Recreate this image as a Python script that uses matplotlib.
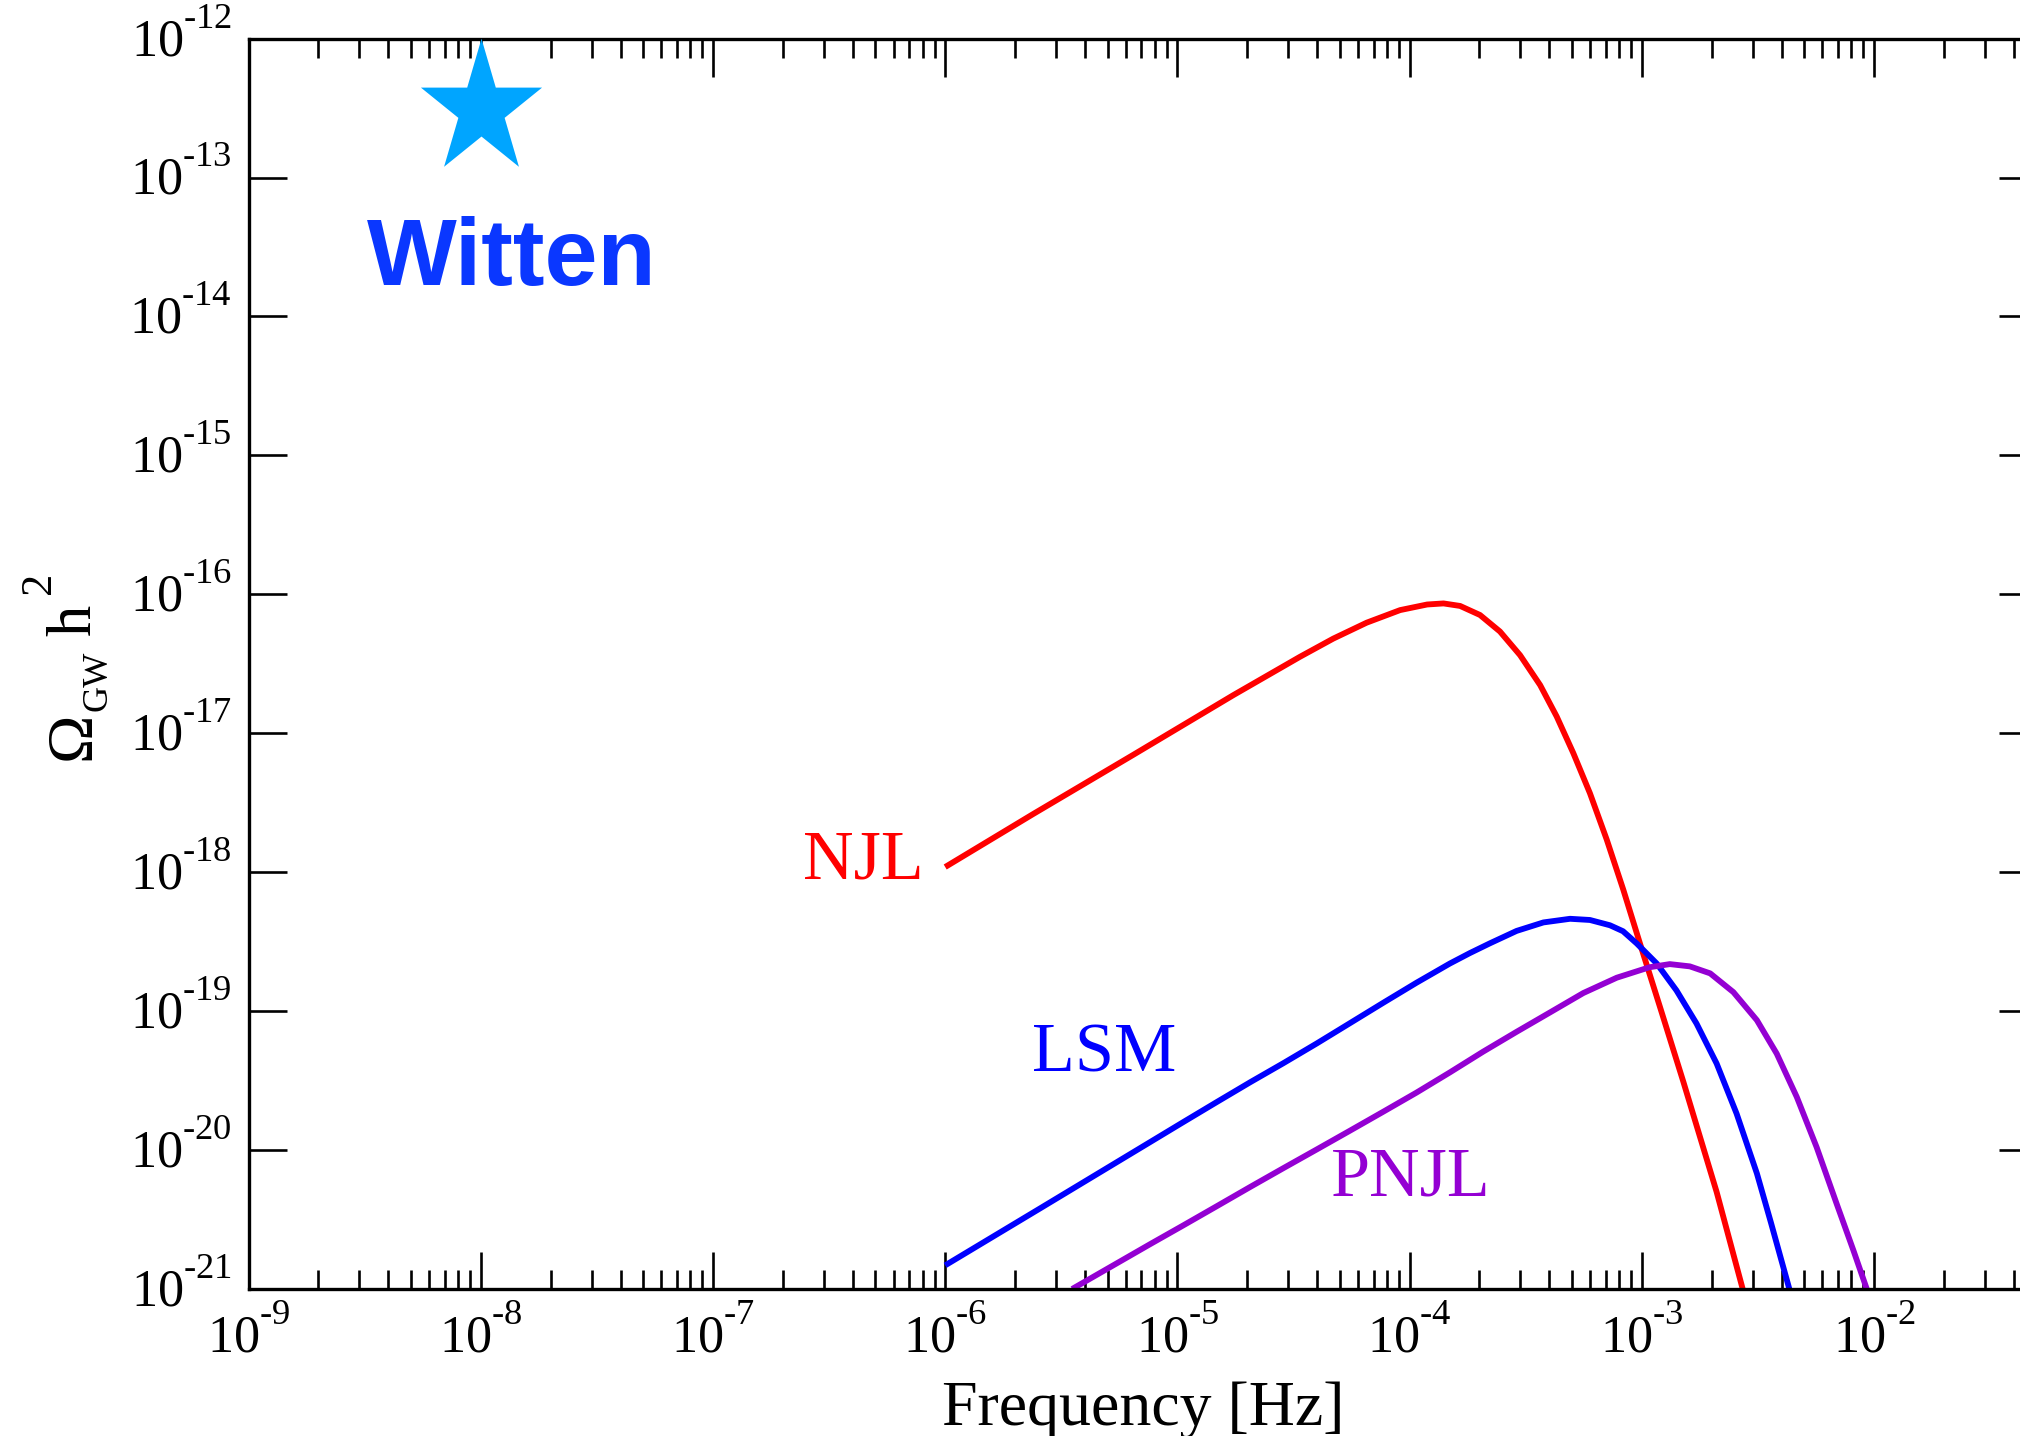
import matplotlib
matplotlib.use("Agg")
import numpy as np
import matplotlib.pyplot as plt
import matplotlib._mathtext as _mt
from matplotlib.ticker import LogLocator, NullLocator, FuncFormatter
from matplotlib.path import Path

# ---- data ----
njl_f = [1.00e-6, 2.39e-6, 6.46e-6, 1.74e-5, 3.37e-5, 4.69e-5, 6.53e-5, 9.10e-5, 1.19e-4,
         1.40e-4, 1.65e-4, 2.01e-4, 2.45e-4, 2.99e-4, 3.65e-4, 4.30e-4, 5.07e-4, 5.98e-4,
         7.06e-4, 8.32e-4, 9.82e-4, 1.20e-3, 1.51e-3, 2.10e-3, 2.72e-3]
njl_o = [1.09e-18, 2.62e-18, 7.00e-18, 1.88e-17, 3.55e-17, 4.80e-17, 6.25e-17, 7.70e-17, 8.45e-17,
         8.60e-17, 8.25e-17, 7.10e-17, 5.40e-17, 3.65e-17, 2.22e-17, 1.32e-17, 7.20e-18, 3.70e-18,
         1.72e-18, 7.50e-19, 3.07e-19, 1.06e-19, 3.10e-20, 5.00e-21, 1.0e-21]

lsm_f = [1.00e-6, 2.56e-6, 7.62e-6, 1.06e-5, 1.48e-5, 2.06e-5, 2.86e-5, 3.98e-5, 5.54e-5,
         7.71e-5, 1.07e-4, 1.49e-4, 1.82e-4, 2.22e-4, 2.89e-4, 3.77e-4, 4.91e-4, 5.98e-4,
         7.29e-4, 8.30e-4, 9.51e-4, 1.16e-3, 1.41e-3, 1.72e-3, 2.10e-3, 2.56e-3, 3.13e-3,
         3.60e-3, 4.32e-3]
lsm_o = [1.48e-21, 3.80e-21, 1.14e-20, 1.59e-20, 2.22e-20, 3.08e-20, 4.22e-20, 5.85e-20, 8.20e-20,
         1.15e-19, 1.60e-19, 2.20e-19, 2.62e-19, 3.08e-19, 3.78e-19, 4.35e-19, 4.62e-19, 4.53e-19,
         4.15e-19, 3.76e-19, 3.07e-19, 2.20e-19, 1.41e-19, 8.15e-20, 4.20e-20, 1.83e-20, 6.80e-21,
         3.00e-21, 1.0e-21]

pnjl_f = [3.52e-6, 7.62e-6, 1.06e-5, 1.48e-5, 2.06e-5, 2.86e-5, 3.98e-5, 5.54e-5, 7.71e-5,
          1.07e-4, 1.49e-4, 2.07e-4, 2.89e-4, 4.03e-4, 5.60e-4, 7.80e-4, 1.08e-3, 1.32e-3,
          1.61e-3, 1.97e-3, 2.48e-3, 3.13e-3, 3.81e-3, 4.65e-3, 5.66e-3, 6.90e-3, 8.15e-3, 9.31e-3]
pnjl_o = [1.0e-21, 2.10e-21, 2.87e-21, 3.95e-21, 5.43e-21, 7.41e-21, 1.01e-20, 1.38e-20, 1.89e-20,
          2.59e-20, 3.62e-20, 5.10e-20, 7.10e-20, 9.80e-20, 1.35e-19, 1.74e-19, 2.07e-19, 2.18e-19,
          2.10e-19, 1.87e-19, 1.37e-19, 8.61e-20, 4.95e-20, 2.41e-20, 1.05e-20, 4.12e-21, 1.90e-21,
          1.0e-21]

witten_f = [1.0e-8]
witten_o = [3.09e-13]

# raise superscripts of tick labels a bit more (as in the reference)
_mt.FontConstantsBase.sup1 = 1.18

plt.rcParams['font.family'] = ['Liberation Serif', 'DejaVu Serif']
plt.rcParams['mathtext.fontset'] = 'custom'
plt.rcParams['mathtext.rm'] = 'Liberation Serif'
plt.rcParams['mathtext.it'] = 'Liberation Serif:italic'
plt.rcParams['mathtext.bf'] = 'Liberation Serif:bold'
plt.rcParams['mathtext.default'] = 'regular'
plt.rcParams['axes.unicode_minus'] = False

W, H = 2020, 1436
fig = plt.figure(figsize=(W / 100, H / 100), dpi=100)
left, right, top, bottom = 248.6, 2036.3, 38.6, 1289.0
ax = fig.add_axes([left / W, 1 - bottom / H, (right - left) / W, (bottom - top) / H])

ax.set_xscale('log')
ax.set_yscale('log')
ax.set_xlim(1e-9, 5e-2)
ax.set_ylim(1e-21, 1e-12)

LW = 4.2
ax.plot(njl_f, njl_o, color='#FF0000', lw=LW, solid_capstyle='butt', solid_joinstyle='round')
ax.plot(lsm_f, lsm_o, color='#0000FF', lw=LW, solid_capstyle='butt', solid_joinstyle='round')
ax.plot(pnjl_f, pnjl_o, color='#9400D3', lw=LW, solid_capstyle='butt', solid_joinstyle='round')

# slightly tall five-pointed star marker
ang = np.deg2rad(90 + 36 * np.arange(10))
rad = np.tile([1.0, 0.381966], 5)
sv = np.column_stack([rad * np.cos(ang), 1.112 * rad * np.sin(ang)])
sv = np.vstack([sv, sv[:1]])
star = Path(sv, closed=True)
ax.plot(witten_f, witten_o, marker=star, ms=102, color='#00A5FF', mew=0, ls='none',
        clip_on=False, zorder=5)

ax.text(4.43e-7, 8.97e-19, 'NJL', color='#FF0000', fontsize=50.5, ha='center', va='baseline')
ax.text(4.83e-6, 3.65e-20, 'LSM', color='#0000FF', fontsize=50.5, ha='center', va='baseline')
ax.text(1.01e-4, 4.69e-21, 'PNJL', color='#9400D3', fontsize=50.5, ha='center', va='baseline')
ax.text(1.36e-8, 1.68e-14, 'Witten', color='#0A37FF', fontsize=68.5, fontweight='bold',
        family=['Liberation Sans', 'DejaVu Sans'], ha='center', va='baseline')

ax.xaxis.set_major_locator(LogLocator(base=10, numticks=20))
ax.xaxis.set_minor_locator(LogLocator(base=10, subs=range(2, 10), numticks=20))
ax.yaxis.set_major_locator(LogLocator(base=10, numticks=20))
ax.yaxis.set_minor_locator(NullLocator())


def sci(v, pos):
    e = int(round(np.log10(v)))
    sign = '\u2010' if e < 0 else ''
    return r'$\mathdefault{10^{%s%d}}$' % (sign, abs(e))


ax.xaxis.set_major_formatter(FuncFormatter(sci))
ax.yaxis.set_major_formatter(FuncFormatter(sci))

ax.tick_params(which='both', direction='in', top=True, right=True, width=1.9, colors='black')
ax.tick_params(which='major', length=27, labelsize=37.5)
ax.tick_params(which='minor', length=14)
ax.tick_params(axis='x', which='major', pad=13)
ax.tick_params(axis='y', which='major', pad=12)
for s in ax.spines.values():
    s.set_linewidth(2.4)
for lab in ax.get_yticklabels():
    lab.set_va('center')

fig.text(1143 / W, 1 - 1425 / H, 'Frequency [Hz]', fontsize=46, ha='center', va='baseline')

# y-axis label Ω_GW h^2 composed piece by piece (rotated)
def ylab(s, xb, yc, size):
    fig.text(xb / W, 1 - yc / H, s, fontsize=size, rotation=90, rotation_mode='anchor',
             ha='center', va='baseline')

ylab('\u03A9', 90, 735.5, 47)
ylab('GW', 107, 681, 26)
ylab('h', 90, 620, 45)
ylab('2', 50, 582.5, 32)

fig.savefig('out.png', dpi=100)
